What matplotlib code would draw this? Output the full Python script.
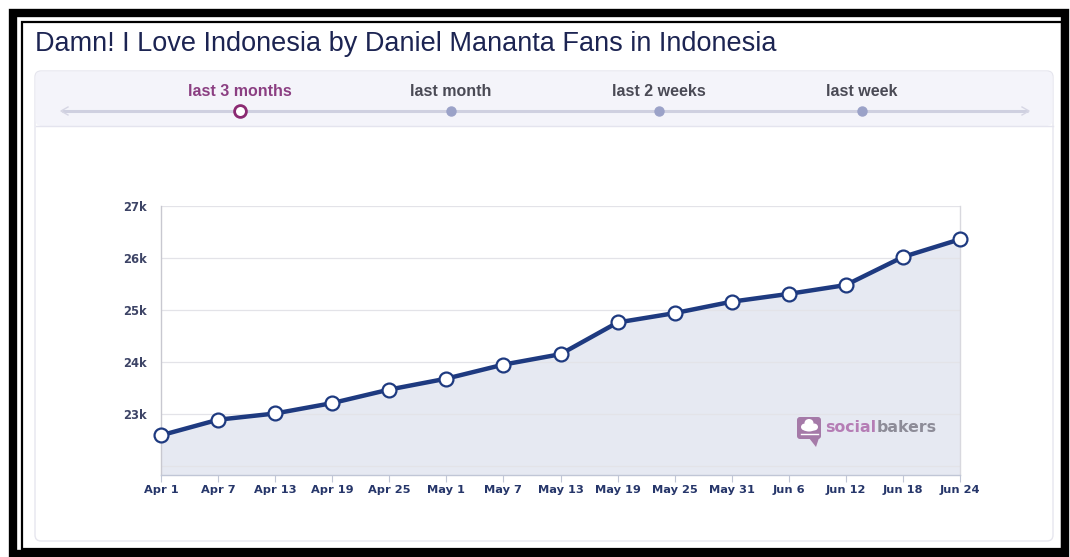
import matplotlib
matplotlib.use("Agg")
import matplotlib.pyplot as plt
from matplotlib.patches import Rectangle, FancyBboxPatch, Polygon, Ellipse
import numpy as np

# ---------------- data ----------------
title = "Damn! I Love Indonesia by Daniel Mananta Fans in Indonesia"
tabs = ["last 3 months", "last month", "last 2 weeks", "last week"]
dates = ["Apr 1", "Apr 7", "Apr 13", "Apr 19", "Apr 25", "May 1", "May 7", "May 13",
         "May 19", "May 25", "May 31", "Jun 6", "Jun 12", "Jun 18", "Jun 24"]
fans = [22590, 22890, 23010, 23210, 23470, 23680, 23950, 24150,
        24760, 24940, 25160, 25310, 25480, 26020, 26360]
ytick_vals = [22000, 23000, 24000, 25000, 26000, 27000]
ytick_labels = ["", "23k", "24k", "25k", "26k", "27k"]

W, H = 1070, 557
fig = plt.figure(figsize=(W / 100, H / 100), dpi=100)
fig.patch.set_facecolor("white")

# background (pixel-coordinate) axes for decorations
bg = fig.add_axes([0, 0, 1, 1], zorder=0)
bg.set_xlim(0, W)
bg.set_ylim(H, 0)
bg.axis("off")

# outer frames
bg.add_patch(Rectangle((13, 13), 1052, 541, fill=False, ec="black", lw=6.0))
bg.add_patch(Rectangle((21.5, 22), 1040, 526.5, fill=False, ec="black", lw=1.6))

# card
bg.add_patch(FancyBboxPatch((35, 71), 1018, 470, boxstyle="round,pad=0,rounding_size=6",
                            fc="white", ec="#e6e6ee", lw=1.0))
bg.add_patch(FancyBboxPatch((35.5, 71.5), 1017, 54.5, boxstyle="round,pad=0,rounding_size=6",
                            fc="#f4f4fa", ec="none"))
bg.plot([35.5, 1052.5], [126, 126], color="#e4e4ee", lw=1.0)

# title
bg.text(35, 44, title, fontsize=19.5, color="#1c2452", family="Liberation Sans",
        ha="left", va="center")

# timeline
tab_x = [240, 451, 659, 862]
bg.plot([62, 1028], [111, 111], color="#cfd0e0", lw=2.2, solid_capstyle="butt", zorder=2)
bg.plot([68, 61, 68], [107, 111, 115], color="#d6d6e4", lw=1.0)
bg.plot([1022, 1029, 1022], [107, 111, 115], color="#d6d6e4", lw=1.0)
for i, (tx, lab) in enumerate(zip(tab_x, tabs)):
    if i == 0:
        bg.text(tx, 91, lab, fontsize=11.5, fontweight="bold", color="#8b3f82",
                family="Liberation Sans", ha="center", va="center")
        bg.plot([tx], [111], marker="o", ms=8.5, mfc="white", mec="#8b2a72", mew=2.0, zorder=4)
    else:
        bg.text(tx, 91, lab, fontsize=11.5, fontweight="bold", color="#4a4a55",
                family="Liberation Sans", ha="center", va="center")
        bg.plot([tx], [111], marker="o", ms=6.5, mfc="#9ba2c8", mec="#9ba2c8", zorder=4)

# ---------------- chart ----------------
L, R, T, B = 161, 960, 206, 475
ax = fig.add_axes([L / W, 1 - B / H, (R - L) / W, (B - T) / H], zorder=1)
x = np.arange(len(fans))
ymin, ymax = 21827, 27000
ax.set_xlim(0, len(fans) - 1)
ax.set_ylim(ymin, ymax)
ax.set_facecolor("white")

ax.fill_between(x, fans, ymin, color="#e6e9f2", zorder=1)
for v in ytick_vals:
    ax.axhline(v, color="#e3e3e8", lw=0.9, zorder=2)
ax.plot(x, fans, color="#1e3a80", lw=3.2, zorder=3, solid_joinstyle="round")
ax.plot(x, fans, ls="none", marker="o", ms=10, mfc="white", mec="#1e3a80", mew=1.6,
        zorder=4, clip_on=False)

ax.spines["top"].set_visible(False)
ax.spines["left"].set_color("#c8c8d0")
ax.spines["right"].set_color("#d8d8de")
ax.spines["bottom"].set_color("#c0c6d6")
for s in ax.spines.values():
    s.set_linewidth(1.0)

ax.set_yticks(ytick_vals)
ax.set_yticklabels(ytick_labels)
ax.tick_params(axis="y", length=0, pad=10, labelsize=8.3, labelcolor="#3d4466")
ax.set_xticks(x)
ax.set_xticklabels(dates)
ax.tick_params(axis="x", length=5, width=0.8, color="#c0c6d6", pad=2.5,
               labelsize=8.2, labelcolor="#26366a")
for lab in ax.get_xticklabels() + ax.get_yticklabels():
    lab.set_fontweight("bold")
    lab.set_family("DejaVu Sans")

# overlay axes for the watermark logo
fg = fig.add_axes([0, 0, 1, 1], zorder=2)
fg.set_xlim(0, W)
fg.set_ylim(H, 0)
fg.axis("off")
fg.patch.set_alpha(0)
fg.add_patch(FancyBboxPatch((797, 417), 24, 22, boxstyle="round,pad=0,rounding_size=3",
                            fc="#a57aa8", ec="none"))
fg.add_patch(Polygon([[809, 438], [819, 438], [816, 447]], closed=True,
                     fc="#a57aa8", ec="none"))
for cx, cy, rw, rh in [(805, 427, 8, 7), (809, 423, 9, 8), (814, 427, 8, 7), (809, 429, 11, 5)]:
    fg.add_patch(Ellipse((cx, cy), rw, rh, fc="white", ec="none"))
fg.plot([801, 818], [434, 434], color="white", lw=1.0)
t1 = fg.text(825, 428, "social", fontsize=11.3, fontweight="bold", color="#b57db5",
             family="DejaVu Sans", ha="left", va="center")
fg.annotate("bakers", xy=(1, 0.5), xycoords=t1, fontsize=11.3, fontweight="bold",
            color="#8d8c98", family="DejaVu Sans", ha="left", va="center")

fig.savefig("out.png", dpi=100, facecolor="white")
